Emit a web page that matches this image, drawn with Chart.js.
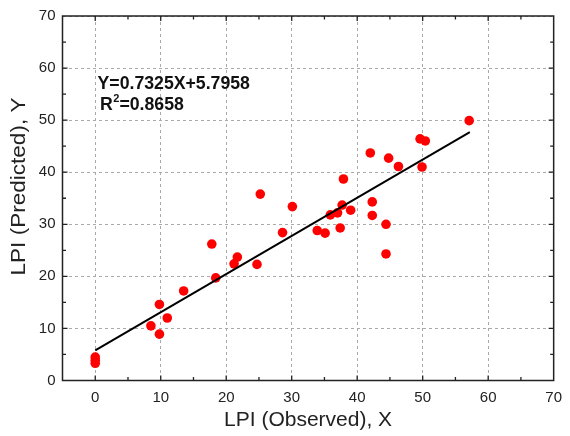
<!DOCTYPE html>
<html>
<head>
<meta charset="utf-8">
<script src="https://cdn.jsdelivr.net/npm/chart.js@4"></script>
<style>
  html, body { margin: 0; padding: 0; background: #fff; }
  #wrap { width: 570px; height: 436px; position: relative; }
</style>
</head>
<body>
<div id="wrap"><canvas id="myChart"></canvas></div>
<script>
// observed vs predicted LPI
const obsX = [0, 0, 0, 8.5, 9.8, 9.8, 11.0, 13.5, 17.8, 18.4, 21.2, 21.7, 24.7, 25.2, 28.6, 30.1,
  33.9, 35.1, 35.9, 37.0, 37.4, 37.7, 37.9, 39.0, 42.0, 42.3, 42.3, 44.4, 44.4, 44.8, 46.3,
  49.6, 49.9, 50.4, 57.1];
const predY = [4.5, 3.9, 3.3, 10.5, 14.6, 8.9, 12.0, 17.2, 26.2, 19.7, 22.4, 23.7, 22.3, 35.8, 28.4, 33.4,
  28.8, 28.3, 31.8, 32.2, 29.3, 33.7, 38.7, 32.7, 43.7, 34.3, 31.7, 30.0, 24.3, 42.7, 41.1,
  46.4, 41.0, 46.0, 49.9];

// regression line end points (Y=0.7325X+5.7958)
const fitX = [0, 57.2];
const fitY = [5.8, 47.7];

const xTicks = [0, 10, 20, 30, 40, 50, 60, 70];
const yTicks = [0, 10, 20, 30, 40, 50, 60, 70];

const FONT = "'Liberation Sans', Arial, sans-serif";

const framePlugin = {
  id: "frame",
  afterDraw(chart) {
    const { ctx, chartArea: a, scales } = chart;
    const xs = scales.x, ys = scales.y;
    ctx.save();
    ctx.strokeStyle = "#222";
    ctx.lineWidth = 1.5;
    ctx.strokeRect(a.left, a.top, a.right - a.left, a.bottom - a.top);

    // inward ticks, major every 10 and minor every 5
    ctx.lineWidth = 1.3;
    ctx.beginPath();
    for (let v = -5; v <= 70; v += 5) {
      const len = v % 10 === 0 ? 5 : 3.5;
      const px = xs.getPixelForValue(v);
      if (v > -5 && v < 70) {
        ctx.moveTo(px, a.bottom); ctx.lineTo(px, a.bottom - len);
        ctx.moveTo(px, a.top); ctx.lineTo(px, a.top + len);
      }
    }
    for (let v = 0; v <= 70; v += 5) {
      const len = v % 10 === 0 ? 5 : 3.5;
      const py = ys.getPixelForValue(v);
      if (v > 0 && v < 70) {
        ctx.moveTo(a.left, py); ctx.lineTo(a.left + len, py);
        ctx.moveTo(a.right, py); ctx.lineTo(a.right - len, py);
      }
    }
    ctx.stroke();

    // y axis title (slightly stretched along its length, like the source figure)
    ctx.save();
    ctx.translate(19.5, 186.5);
    ctx.rotate(-Math.PI / 2);
    ctx.scale(1.1, 1);
    ctx.fillStyle = "#222";
    ctx.font = "20.5px " + FONT;
    ctx.textAlign = "center";
    ctx.textBaseline = "middle";
    ctx.fillText("LPI (Predicted), Y", 0, 0);
    ctx.restore();

    // equation text
    ctx.fillStyle = "#111";
    ctx.textBaseline = "alphabetic";
    ctx.textAlign = "left";
    ctx.font = "bold 17.7px " + FONT;
    ctx.fillText("Y=0.7325X+5.7958", 97.5, 88.5);
    let x0 = 100;
    ctx.fillText("R", x0, 110);
    x0 += ctx.measureText("R").width;
    ctx.font = "bold 11px " + FONT;
    ctx.fillText("2", x0 + 0.5, 102);
    x0 += ctx.measureText("2").width + 0.5;
    ctx.font = "bold 17.7px " + FONT;
    ctx.fillText("=0.8658", x0, 110);
    ctx.restore();
  }
};

const ctx = document.getElementById("myChart").getContext("2d");
new Chart(ctx, {
  type: "scatter",
  data: {
    datasets: [
      {
        type: "line",
        label: "Fit",
        data: fitX.map((x, i) => ({ x: x, y: fitY[i] })),
        borderColor: "#000",
        borderWidth: 2,
        pointRadius: 0,
        fill: false,
        tension: 0
      },
      {
        label: "LPI",
        data: obsX.map((x, i) => ({ x: x, y: predY[i] })),
        backgroundColor: "#ff0000",
        borderColor: "#ff0000",
        borderWidth: 0,
        pointRadius: 4.8
      }
    ]
  },
  options: {
    responsive: true,
    maintainAspectRatio: false,
    animation: false,
    layout: { padding: { top: 14.4, right: 7.6, left: 0, bottom: 0 } },
    plugins: { legend: { display: false }, tooltip: { enabled: false } },
    scales: {
      x: {
        type: "linear",
        min: -5,
        max: 70,
        afterBuildTicks: (s) => { s.ticks = xTicks.map((v) => ({ value: v })); },
        afterFit: (s) => { s.height = 55.5; },
        grid: { color: "#aaaaaa", lineWidth: 1, drawTicks: false },
        border: { display: false, dash: [3, 3] },
        ticks: { padding: 8, color: "#222", font: { family: FONT, size: 15 } },
        title: {
          display: true,
          text: "LPI (Observed), X",
          color: "#222",
          font: { family: FONT, size: 21 },
          padding: { top: 0, bottom: 3 }
        }
      },
      y: {
        type: "linear",
        min: 0,
        max: 70,
        afterBuildTicks: (s) => { s.ticks = yTicks.map((v) => ({ value: v })); },
        afterFit: (s) => { s.width = 62.5; },
        grid: { color: "#aaaaaa", lineWidth: 1, drawTicks: false },
        border: { display: false, dash: [3, 3] },
        ticks: { padding: 7, color: "#222", font: { family: FONT, size: 15 } },
        title: { display: false }
      }
    }
  },
  plugins: [framePlugin]
});
</script>
</body>
</html>
